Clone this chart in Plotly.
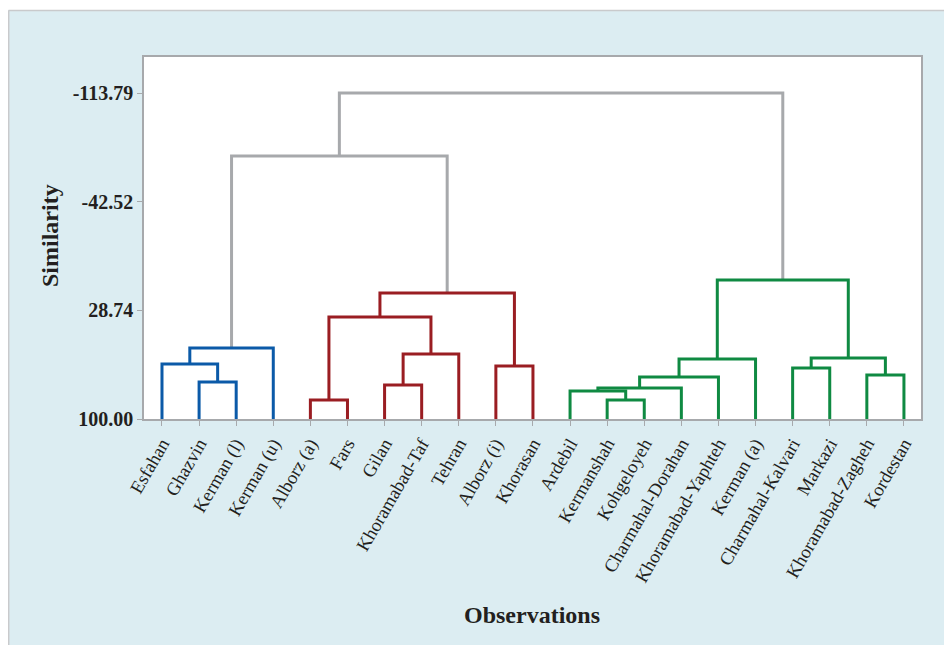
import plotly.graph_objects as go

# ---- data ----
leaf_labels = ["Esfahan", "Ghazvin", "Kerman (l)", "Kerman (u)", "Alborz (a)", "Fars",
               "Gilan", "Khoramabad-Taf", "Tehran", "Alborz (i)", "Khorasan", "Ardebil",
               "Kermanshah", "Kohgeloyeh", "Charmahal-Dorahan", "Khoramabad-Yaphteh",
               "Kerman (a)", "Charmahal-Kalvari", "Markazi", "Khoramabad-Zagheh", "Kordestan"]

# merges: (left node, right node); new node ids start at len(leaf_labels)
merge_left = [1, 0, 22, 4, 6, 25, 24, 9, 27, 23, 12, 11, 32, 33, 34, 17, 19, 36, 35, 30]
merge_right = [2, 21, 3, 5, 7, 8, 26, 10, 28, 29, 13, 31, 14, 15, 16, 18, 20, 37, 38, 39]
merge_similarity = [75.7, 63.9, 53.4, 87.5, 77.7, 57.4, 33.1, 65.2, 17.4, -72.5,
                    87.5, 81.6, 79.7, 72.5, 60.7, 66.6, 71.1, 60.0, 8.8, -113.79]
merge_group = ["blue", "blue", "blue", "red", "red", "red", "red", "red", "red", "gray",
               "green", "green", "green", "green", "green", "green", "green", "green", "green", "gray"]

tick_values = [100.00, 28.74, -42.52, -113.79]
tick_labels = ["100.00", "28.74", "-42.52", "-113.79"]

group_colors = {"blue": "#0b5aa8", "red": "#9a1d22", "green": "#0f8a42", "gray": "#a7a9ac"}

# ---- build dendrogram segments ----
n = len(leaf_labels)
node_x = {i: i + 1 for i in range(n)}
node_h = {i: 100.0 for i in range(n)}
segs = {k: ([], []) for k in group_colors}
for k, (a, b, h, g) in enumerate(zip(merge_left, merge_right, merge_similarity, merge_group)):
    xa, xb = node_x[a], node_x[b]
    xs, ys = segs[g]
    xs += [xa, xa, xb, xb, None]
    ys += [node_h[a], h, h, node_h[b], None]
    node_x[n + k] = (xa + xb) / 2
    node_h[n + k] = h

fig = go.Figure()
for g in ["gray", "blue", "red", "green"]:
    xs, ys = segs[g]
    fig.add_trace(go.Scatter(x=xs, y=ys, mode="lines",
                             line=dict(color=group_colors[g], width=3),
                             hoverinfo="skip", showlegend=False))

axis_gray = "#a7a9ac"
text_col = "#231f20"
fig.update_xaxes(range=[0.515, 21.46], tickmode="array",
                 tickvals=list(range(1, n + 1)), ticktext=leaf_labels,
                 tickangle=-60, ticks="outside", ticklen=5, tickcolor=axis_gray,
                 showline=True, linecolor=axis_gray, linewidth=1.5, mirror=True,
                 showgrid=False, zeroline=False,
                 tickfont=dict(family="Liberation Serif", size=18.5, color=text_col))
fig.update_yaxes(range=[100, -137.4], tickmode="array",
                 tickvals=tick_values, ticktext=tick_labels,
                 ticks="outside", ticklen=5, tickcolor=axis_gray,
                 showline=True, linecolor=axis_gray, linewidth=1.5, mirror=True,
                 showgrid=False, zeroline=False,
                 tickfont=dict(family="Liberation Serif", size=20, color=text_col,
                               weight="bold"))

# page is rendered with an 8px body margin; work in page pixels and offset
OFF = 8
PW, PH = 952, 645
W, H = PW - OFF, PH - OFF
L, R, T, B = 144 - OFF, 31, 57 - OFF, 226
pw, ph = W - L - R, H - T - B


def px(x):
    return (x - OFF - L) / pw


def py(y):
    return (H - B - (y - OFF)) / ph


shapes = [
    dict(type="rect", xref="paper", yref="paper", x0=px(0), x1=px(PW + 5), y0=py(10), y1=py(0),
         fillcolor="white", line=dict(width=0), layer="below"),
    dict(type="line", xref="paper", yref="paper", x0=px(8.5), x1=px(PW + 5), y0=py(10.5), y1=py(10.5),
         line=dict(color="#c9cacc", width=1.5)),
    dict(type="line", xref="paper", yref="paper", x0=px(8.7), x1=px(8.7), y0=py(10.5), y1=py(PH + 5),
         line=dict(color="#c9cacc", width=1.5)),
]

annotations = [
    dict(text="<b>Similarity</b>", xref="paper", yref="paper", x=px(50), y=py(236),
         textangle=-90, showarrow=False, xanchor="center", yanchor="middle",
         font=dict(family="Liberation Serif", size=24, color=text_col)),
    dict(text="<b>Observations</b>", xref="paper", yref="paper", x=px(532), y=py(615),
         showarrow=False, xanchor="center", yanchor="middle",
         font=dict(family="Liberation Serif", size=24, color=text_col)),
]

fig.update_layout(width=W, height=H, margin=dict(l=L, r=R, t=T, b=B, autoexpand=False),
                  paper_bgcolor="#dcedf2", plot_bgcolor="white",
                  shapes=shapes, annotations=annotations, showlegend=False)

fig.write_html("out.html")
